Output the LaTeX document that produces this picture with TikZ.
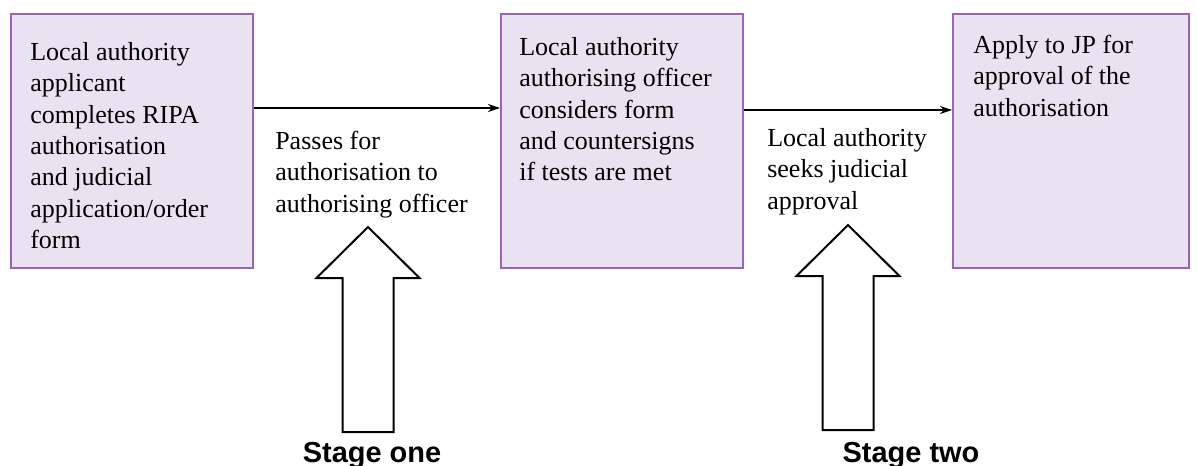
\documentclass[tikz,border=0pt]{standalone}
\usepackage{fontspec}
\setmainfont{Liberation Serif}
\newfontfamily\stagefont{Liberation Sans}
\usetikzlibrary{arrows.meta,calc}

\definecolor{boxfill}{RGB}{233,227,241}
\definecolor{boxline}{RGB}{158,98,186}

\tikzset{
  stagebox/.style={draw=boxline, fill=boxfill, line width=0.05cm, inner sep=0pt,
                   anchor=north west, minimum height=6.35cm},
  boxtext/.style={anchor=north west, inner sep=0pt, align=left,
                  font=\fontsize{18.5}{22.3}\selectfont},
  flow/.style={line width=0.035cm, -{Stealth[length=0.3cm,width=0.2cm]}},
  blockarrow/.style={line width=0.05cm, fill=white, line join=miter},
  stagelabel/.style={anchor=base, inner sep=0pt, font=\stagefont\bfseries\fontsize{20.6}{24}\selectfont}
}

\begin{document}
\begin{tikzpicture}[x=0.025cm, y=-0.025cm]
  \useasboundingbox (0,0) rectangle (1197,466);

  % Drawing the three boxes
  \node [stagebox, minimum width=6.05cm] (applicant) at (10,13) {};
  \node [stagebox, minimum width=6.05cm] (officer) at (500,13) {};
  \node [stagebox, minimum width=5.9cm] (justice) at (952,13) {};

  % Texts in the boxes
  \node [boxtext] (applicanttext) at ($(applicant.north west)+(20,29)$)
    {Local authority\\ applicant\\ completes RIPA\\ authorisation\\ and judicial\\ application/order\\ form};
  \node [boxtext] (officertext) at ($(officer.north west)+(19,24)$)
    {Local authority\\ authorising officer\\ considers form\\ and countersigns\\ if tests are met};
  \node [boxtext] (justicetext) at ($(justice.north west)+(21,22)$)
    {Apply to JP for\\ approval of the\\ authorisation};

  % Drawing the connectors between the boxes
  \draw [flow] ($(applicant.north east)+(0,95)$) -- ($(officer.north west)+(0,95)$);
  \draw [flow] ($(officer.north east)+(0,97)$) -- ($(justice.north west)+(0,97)$);

  % Texts under the connectors
  \node [boxtext] (passes) at (275,131)
    {Passes for\\ authorisation to\\ authorising officer};
  \node [boxtext] (seeks) at (767,128)
    {Local authority\\ seeks judicial\\ approval};

  % Drawing the two block arrows
  \foreach \ax/\ay in {368/227, 848/225}
    \draw [blockarrow] (\ax,\ay) -- ++(51.5,51) -- ++(-26,0) -- ++(0,154)
      -- ++(-51,0) -- ++(0,-154) -- ++(-26,0) -- cycle;

  % Marking the stages
  \node [stagelabel] (stageone) at (372,462) {Stage one};
  \node [stagelabel] (stagetwo) at (911,462) {Stage two};
\end{tikzpicture}
\end{document}
